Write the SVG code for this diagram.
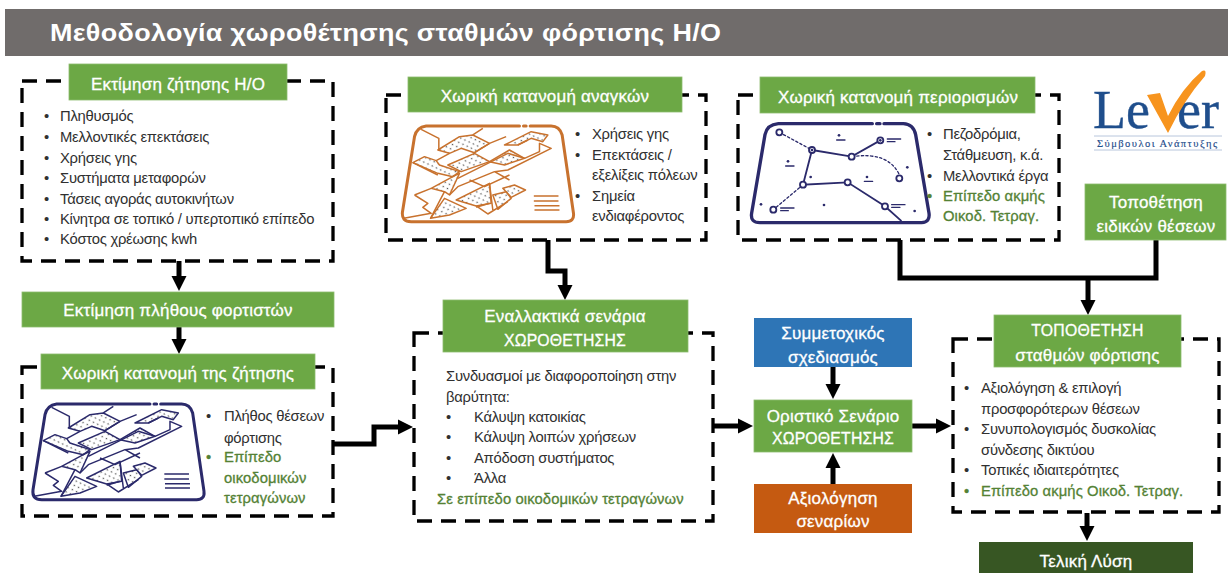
<svg xmlns="http://www.w3.org/2000/svg" width="1228" height="573" viewBox="0 0 1228 573">
<style>
text{font-family:"Liberation Sans",Arial,sans-serif}
.dash{fill:none;stroke:#000;stroke-width:3.3;stroke-dasharray:15 9}
.g{fill:#6CA845;stroke:#8DBB6E;stroke-width:.8}
.h{font-size:17px;fill:#fff;stroke:#fff;stroke-width:.3;text-anchor:middle;letter-spacing:.2px}
.u{font-size:15.8px}
.b{font-size:14.8px;fill:#303030;letter-spacing:-.25px}
.gt{font-size:14.8px;fill:#548235;stroke:#548235;stroke-width:.3;letter-spacing:.1px}
.c{fill:none;stroke:#000;stroke-width:5}
.serif{font-family:"Liberation Serif",serif}
</style>
<defs>
<marker id="a" markerUnits="userSpaceOnUse" markerWidth="16" markerHeight="16" refX="1" refY="8" orient="auto"><path d="M0 .5L15 8L0 15.5Z" fill="#000"/></marker>
<pattern id="dots" width="14" height="14" patternUnits="userSpaceOnUse" patternTransform="rotate(25)"><circle cx="7" cy="7" r="2.4" fill="#555"/></pattern>
<g id="map" fill="none" stroke-linejoin="round" transform="translate(25 398) scale(.3333)">
<path stroke-width="9" stroke-linecap="round" d="M95 18H375M387 18H395M407 18H470Q495 18 503 45L537 280Q540 305 515 305H50Q20 305 24 275L60 50Q66 22 95 18"/>
<g fill="url(#dots)" stroke-width="4.5">
<path d="M55 128L90 110L125 122L135 135L195 155L175 170L130 160Z"/>
<path d="M130 90L195 50L235 45L285 70L240 98L200 85L165 100Z"/>
<path d="M160 135L240 100L285 125L200 155Z"/>
<path d="M285 125L345 90L390 115L330 135Z"/>
<path d="M330 75L410 35L460 45L445 65L410 55L370 75Z"/>
<path d="M110 205L175 170L195 160L165 225L150 215Z"/>
<path d="M185 240L285 190L290 250L245 258Z"/>
<path d="M295 225L335 215L350 235L310 268Z"/>
<path d="M325 205L360 195L393 210L350 232Z"/>
<path d="M108 295L150 235L215 265L165 285Z"/>
</g>
<path stroke-width="4.5" d="M80 28L133 55V90M235 45L265 25M55 128L130 165M165 100L125 122M240 98L285 70L335 50M190 175L340 100L390 115L435 95L435 70L470 85L340 150L300 155L190 200L165 225M225 180L270 200L345 165M300 155L345 180M60 225L110 205M60 225L100 250L85 262L110 280L28 295M150 215L108 295M285 190L295 270M245 258L280 282L340 245M245 262L285 250M370 75L400 60"/>
<path stroke-width="4.5" d="M418 228H492M418 243H492M420 257H495M420 270H495"/>
</g>
<g id="net" fill="none" stroke-linecap="round" transform="translate(745 118) scale(.3333)">
<path stroke-width="10" d="M100 17H382M395 17H405M417 17H475Q505 18 512 50L552 285Q556 313 530 314H45Q15 314 20 285L60 50Q66 20 100 17"/>
<path stroke-width="5.5" d="M201 96L320 116L406 67M201 96L174 200L308 193L420 265L468 308"/>
<path stroke-width="4" stroke-dasharray="7 7" d="M103 43L201 96M174 200L85 275M320 116Q430 100 463 170"/>
<g fill="#fff" stroke-width="5.5"><circle cx="103" cy="43" r="9"/><circle cx="201" cy="96" r="9"/><circle cx="406" cy="67" r="9"/><circle cx="320" cy="116" r="9"/><circle cx="463" cy="181" r="9"/><circle cx="174" cy="200" r="9"/><circle cx="308" cy="193" r="9"/><circle cx="420" cy="265" r="9"/><circle cx="85" cy="275" r="9"/></g>
<path stroke-width="4" d="M275 66H300M122 144H147M358 190H383M427 63H467M427 71H450M440 260H480M440 268H465M107 270H147M107 278H130"/>
<g fill="currentColor" stroke="none"><circle cx="201" cy="96" r="4"/><circle cx="406" cy="67" r="4"/><circle cx="282" cy="52" r="4"/><circle cx="129" cy="130" r="4"/><circle cx="366" cy="177" r="4"/><circle cx="197" cy="177" r="4"/><circle cx="487" cy="148" r="4"/><circle cx="48" cy="259" r="4"/><circle cx="237" cy="261" r="4"/><circle cx="509" cy="279" r="4"/></g>
</g>
</defs>

<rect id="header-bar" x="5" y="9" width="1223" height="47" fill="#706C6B"/>
<text transform="translate(50 40.5) scale(1.17 1)" font-size="23" font-weight="700" fill="#fff" letter-spacing=".3">Μεθοδολογία χωροθέτησης σταθμών φόρτισης Η/Ο</text>

<g id="connectors">
<path class="c" marker-end="url(#a)" d="M179 261V277"/>
<path class="c" marker-end="url(#a)" d="M179 327V340"/>
<path class="c" marker-end="url(#a)" d="M334 444H374V427H399"/>
<path class="c" marker-end="url(#a)" d="M548 240V271H565V286"/>
<path class="c" d="M900 240V278H1156V240"/>
<path class="c" marker-end="url(#a)" d="M1088 278V301"/>
<path class="c" marker-end="url(#a)" d="M833 367V385"/>
<path class="c" marker-end="url(#a)" d="M833 484V467"/>
<path class="c" marker-end="url(#a)" d="M714 426H739"/>
<path class="c" marker-end="url(#a)" d="M912 426H937"/>
<path class="c" marker-end="url(#a)" d="M1087 513V527"/>
</g>

<g id="demand-estimate">
<rect class="dash" x="22" y="81" width="311" height="180"/>
<rect class="g" x="69" y="64" width="218" height="36"/>
<text class="h" x="178" y="90">Εκτίμηση ζήτησης Η/Ο</text>
<text class="b"><tspan x="44" y="121">•</tspan><tspan x="60">Πληθυσμός</tspan><tspan x="44" y="142">•</tspan><tspan x="60">Μελλοντικές επεκτάσεις</tspan><tspan x="44" y="162.5">•</tspan><tspan x="60">Χρήσεις γης</tspan><tspan x="44" y="183">•</tspan><tspan x="60">Συστήματα μεταφορών</tspan><tspan x="44" y="203.5">•</tspan><tspan x="60">Τάσεις αγοράς αυτοκινήτων</tspan><tspan x="44" y="223.5">•</tspan><tspan x="60">Κίνητρα σε τοπικό / υπερτοπικό επίπεδο</tspan><tspan x="44" y="244">•</tspan><tspan x="60">Κόστος χρέωσης kwh</tspan></text>
</g>

<g id="charger-count">
<rect class="g" x="22" y="292" width="312" height="35"/>
<text class="h" x="178" y="315.5">Εκτίμηση πλήθους φορτιστών</text>
</g>

<g id="demand-spatial">
<rect class="dash" x="22" y="367" width="311" height="149"/>
<rect class="g" x="41" y="354" width="274" height="35"/>
<text class="h" x="178" y="379">Χωρική κατανομή της ζήτησης</text>
<use href="#map" stroke="#2B2A6B"/>
<text class="b"><tspan x="206" y="421">•</tspan><tspan x="224">Πλήθος θέσεων</tspan><tspan x="224" y="442.5">φόρτισης</tspan></text>
<text class="gt"><tspan x="206" y="462">•</tspan><tspan x="224">Επίπεδο</tspan><tspan x="224" y="482.5">οικοδομικών</tspan><tspan x="224" y="502.5">τετραγώνων</tspan></text>
</g>

<g id="needs-spatial">
<rect class="dash" x="386" y="95" width="320" height="145"/>
<rect class="g" x="408" y="77" width="274" height="35"/>
<text class="h" x="545" y="102">Χωρική κατανομή αναγκών</text>
<use href="#map" stroke="#C8722E" transform="translate(369.5 -278)"/>
<text class="b"><tspan x="575" y="139">•</tspan><tspan x="592">Χρήσεις γης</tspan><tspan x="575" y="159.5">•</tspan><tspan x="592">Επεκτάσεις /</tspan><tspan x="592" y="180">εξελίξεις πόλεων</tspan><tspan x="575" y="200.5">•</tspan><tspan x="592">Σημεία</tspan><tspan x="592" y="221">ενδιαφέροντος</tspan></text>
</g>

<g id="constraints-spatial">
<rect class="dash" x="738" y="95" width="321" height="145"/>
<rect class="g" x="760" y="77" width="275" height="36"/>
<text class="h" x="898" y="102.5">Χωρική κατανομή περιορισμών</text>
<use href="#net" stroke="#2B2A6B" color="#2B2A6B"/>
<text class="b"><tspan x="927" y="139">•</tspan><tspan x="943">Πεζοδρόμια,</tspan><tspan x="943" y="160">Στάθμευση, κ.ά.</tspan><tspan x="927" y="180.5">•</tspan><tspan x="943">Μελλοντικά έργα</tspan></text>
<text class="gt"><tspan x="927" y="201">•</tspan><tspan x="943">Επίπεδο ακμής</tspan><tspan x="943" y="221">Οικοδ. Τετραγ.</tspan></text>
</g>

<g id="logo">
<text class="serif" x="1093" y="128" font-size="54" fill="#1F4E8C" stroke="#1F4E8C" stroke-width=".4">Le</text>
<text class="serif" x="1177" y="128" font-size="54" fill="#1F4E8C" stroke="#1F4E8C" stroke-width=".4">er</text>
<path fill="#F7941E" d="M1147 95L1160 93L1168 116Q1182 88 1202 71Q1207 69 1205 76Q1184 100 1168 133Z"/>
<text class="serif" x="1097" y="147" font-size="10.5" fill="#1F4E8C" letter-spacing="1.45" stroke="#1F4E8C" stroke-width=".15">Σύμβουλοι Ανάπτυξης</text>
<path stroke="#B8C6DC" stroke-width="1" d="M1094 136H1222M1094 150H1222"/>
</g>

<g id="special-sites">
<rect class="g" x="1085" y="184" width="141" height="56"/>
<text class="h" x="1156" y="208">Τοποθέτηση</text>
<text class="h" x="1156" y="232">ειδικών θέσεων</text>
</g>

<g id="scenarios">
<rect class="dash" x="414" y="333" width="299" height="188"/>
<rect class="g" x="443" y="300" width="245" height="52"/>
<text class="h" x="565" y="322">Εναλλακτικά σενάρια</text>
<text class="h u" x="565" y="345.5">ΧΩΡΟΘΕΤΗΣΗΣ</text>
<text class="b"><tspan x="446" y="381">Συνδυασμοί με διαφοροποίηση στην</tspan><tspan x="446" y="401.5">βαρύτητα:</tspan><tspan x="446" y="421.5">•</tspan><tspan x="474">Κάλυψη κατοικίας</tspan><tspan x="446" y="442">•</tspan><tspan x="474">Κάλυψη λοιπών χρήσεων</tspan><tspan x="446" y="462.5">•</tspan><tspan x="474">Απόδοση συστήματος</tspan><tspan x="446" y="482.5">•</tspan><tspan x="474">Άλλα</tspan></text>
<text class="gt" x="437" y="503.5" letter-spacing=".2">Σε επίπεδο οικοδομικών τετραγώνων</text>
</g>

<g id="participatory">
<rect x="754" y="318" width="158" height="49" fill="#2E75B6"/>
<text class="h" x="833" y="339">Συμμετοχικός</text>
<text class="h" x="833" y="362.5">σχεδιασμός</text>
</g>

<g id="final-scenario">
<rect class="g" x="754" y="400" width="158" height="52"/>
<text class="h" x="833" y="422">Οριστικό Σενάριο</text>
<text class="h u" x="833" y="444">ΧΩΡΟΘΕΤΗΣΗΣ</text>
</g>

<g id="evaluation">
<rect x="754" y="484" width="158" height="49" fill="#C55A11"/>
<text class="h" x="833" y="504">Αξιολόγηση</text>
<text class="h" x="833" y="526.5">σεναρίων</text>
</g>

<g id="siting">
<rect class="dash" x="953" y="339" width="266" height="173"/>
<rect class="g" x="994" y="315" width="187" height="52"/>
<text class="h u" x="1087.5" y="336">ΤΟΠΟΘΕΤΗΣΗ</text>
<text class="h" x="1087.5" y="361">σταθμών φόρτισης</text>
<text class="b"><tspan x="964" y="393">•</tspan><tspan x="981">Αξιολόγηση &amp; επιλογή</tspan><tspan x="981" y="413.5">προσφορότερων θέσεων</tspan><tspan x="964" y="434">•</tspan><tspan x="981">Συνυπολογισμός δυσκολίας</tspan><tspan x="981" y="454.5">σύνδεσης δικτύου</tspan><tspan x="964" y="475">•</tspan><tspan x="981">Τοπικές ιδιαιτερότητες</tspan></text>
<text class="gt"><tspan x="964" y="495.5">•</tspan><tspan x="981">Επίπεδο ακμής Οικοδ. Τετραγ.</tspan></text>
</g>

<g id="final-solution">
<rect x="979" y="542" width="214" height="31" fill="#375623"/>
<text class="h" x="1086" y="567">Τελική Λύση</text>
</g>
</svg>
